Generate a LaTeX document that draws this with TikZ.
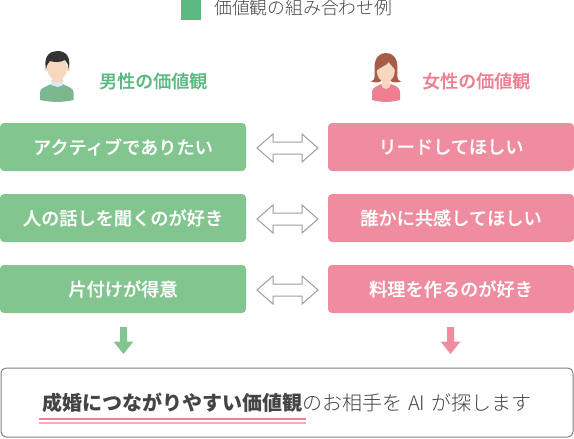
\documentclass[tikz,border=0pt]{standalone}
\usepackage{fontspec}
\setmainfont{Noto Sans CJK JP}
\newfontfamily\lightf{Noto Sans CJK JP Light}
\newfontfamily\medf[FakeBold=0.3]{Noto Sans CJK JP Medium}
\definecolor{grn}{HTML}{82C58E}
\definecolor{grnd}{HTML}{5CB982}
\definecolor{pnk}{HTML}{F08CA0}
\definecolor{pnkd}{HTML}{EE7F92}
\definecolor{ulone}{HTML}{F07F93}
\definecolor{ultwo}{HTML}{F9A9B5}
\definecolor{txt}{HTML}{444444}
\definecolor{skin}{HTML}{F6D8BF}
\definecolor{hairm}{HTML}{333333}
\definecolor{hairf}{HTML}{A85D4B}
\definecolor{shirt}{HTML}{7DB78F}
\definecolor{collar}{HTML}{DCE9F2}
\tikzset{
  box/.style={rounded corners=4pt,minimum width=246pt,minimum height=48pt,inner sep=0,text=white,font=\fontsize{18.2}{20}\medf,anchor=center},
  gbox/.style={box,fill=grn},
  pbox/.style={box,fill=pnk},
  head/.style={font=\fontsize{18}{20}\medf,inner sep=0},
  dbl/.style={draw=black!38,line width=1pt,fill=white},
}
\newcommand{\dblarr}[1]{\draw[dbl] (287.5,#1) ++(-30.5,0) -- ++(16,-14) -- ++(0,8) -- ++(29,0) -- ++(0,-8) -- ++(16,14) -- ++(-16,14) -- ++(0,-8) -- ++(-29,0) -- ++(0,8) -- cycle;}
\newcommand{\dnarr}[2]{\fill[#2] (#1,327) ++(-3.5,0) -- ++(7,0) -- ++(0,14.5) -- ++(6.5,0) -- ++(-10,12.5) -- ++(-10,-12.5) -- ++(6.5,0) -- cycle;}
\begin{document}
\begin{tikzpicture}[x=1pt,y=-1pt]
\useasboundingbox (0,0) rectangle (574,439);
% legend
\fill[grnd] (181,0) rectangle (201,20);
\node[inner sep=0,anchor=west,text=txt,font=\fontsize{17.8}{20}\lightf] (legend) at (214,8) {価値観の組み合わせ例};
% man
\fill[shirt] (40,92) .. controls (40,88) and (46,87) .. (51,84) -- (63,84) .. controls (68,87) and (73.5,88) .. (73.5,92) -- (73.5,100) .. controls (63,102.5) and (51,102.5) .. (40,100) -- cycle;
\fill[collar] (50.5,80) -- (63.5,80) -- (63,85) -- (58,87) -- (51,85) -- cycle;
\fill[skin] (52,74) rectangle (62.5,82);
\fill[skin] (57.2,68) ellipse (10 and 12.5);
\fill[skin] (46.5,69) circle (2.2) (68,69) circle (2.2);
\fill[hairm] (46,69) .. controls (43,55) and (51,51) .. (57.5,51) .. controls (65,51) and (71.5,56) .. (68.7,69) .. controls (68,64) and (67,62) .. (65,60) .. controls (60,63) and (53,62) .. (50,61) .. controls (48,63) and (47,65) .. (46,69) -- cycle;
% woman
\fill[hairf] (371,81.5) .. controls (376,80) and (374.5,75) .. (374.5,68) .. controls (374.5,58) and (379,53) .. (386,53) .. controls (393,53) and (397.5,58) .. (397.5,68) .. controls (397.5,75) and (396,80) .. (401,81.5) .. controls (396,83) and (392,83) .. (390,80) -- (382,80) .. controls (380,83) and (376,83) .. (371,81.5) -- cycle;
\fill[pnkd] (372,92) .. controls (372,87) and (378,86) .. (381,84) .. controls (384,87) and (388,87) .. (391,84) .. controls (395,86) and (400,87) .. (400,92) -- (400,100) .. controls (391,102.5) and (381,102.5) .. (372,100) -- cycle;
\fill[skin] (382,76) rectangle (390,84.5);
\fill[skin] (386,84.5) circle (4.5);
\fill[skin] (385.8,71) ellipse (9 and 11);
\fill[hairf] (376,71) .. controls (376,61) and (381,58) .. (386,58) .. controls (391,58) and (396,61) .. (396,71) .. controls (394,67) and (390,65) .. (389,62) .. controls (386,66) and (380,67) .. (376,71) -- cycle;
% headings
\node[head,text=grnd,anchor=west] (mh) at (99,81) {男性の価値観};
\node[head,text=pnkd,anchor=west] (fh) at (422,81) {女性の価値観};
% boxes
\node[gbox] (g1) at (123,147) {アクティブでありたい};
\node[gbox] (g2) at (123,218) {人の話しを聞くのが好き};
\node[gbox] (g3) at (123,289) {片付けが得意};
\node[pbox] (p1) at (451,147) {リードしてほしい};
\node[pbox] (p2) at (451,218) {誰かに共感してほしい};
\node[pbox] (p3) at (451,289) {料理を作るのが好き};
\dblarr{148}
\dblarr{219}
\dblarr{290}
\dnarr{123.5}{grn}
\dnarr{450.5}{pnk}
% result
\node[draw=black!50,line width=1pt,rounded corners=5pt,minimum width=572pt,minimum height=69pt,inner sep=0] (res) at (287,402.5) {};
\fill[ulone] (39,418.3) rectangle (306,419.8);
\fill[ultwo] (39,422.3) rectangle (306,424);
\node[inner sep=0,anchor=west,text=txt,font=\fontsize{20}{24}\lightf] (rt) at (42,403) {{\fontspec{Noto Sans CJK JP}\bfseries 成婚につながりやすい価値観}のお相手を\hspace{6pt}AI\hspace{6pt}が探します};
\end{tikzpicture}
\end{document}
